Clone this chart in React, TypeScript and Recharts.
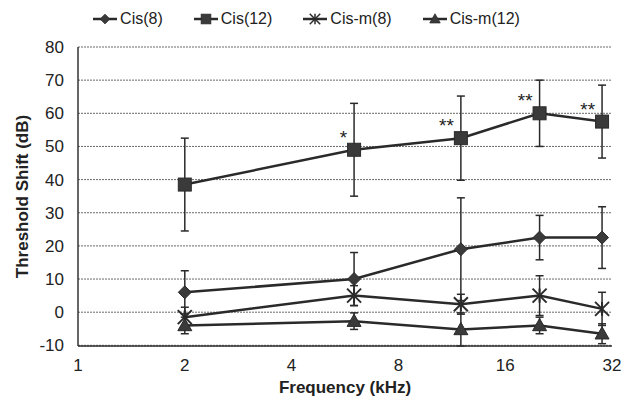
import {
  LineChart,
  Line,
  XAxis,
  YAxis,
  CartesianGrid,
  ErrorBar,
  Legend,
  LabelList,
} from "recharts";

// frequencies in kHz
const freqs = [2, 6, 12, 20, 30];

const cis8 = [6, 10, 19, 22.5, 22.5];
const cis8Err = [6.5, 8, 15.5, 6.7, 9.3];

const cis12 = [38.5, 49, 52.5, 60, 57.5];
const cis12Err = [14, 14, 12.7, 10, 11];

const cism8 = [-1.5, 5, 2.4, 5, 1];
const cism8Err = [3, 3, 3, 6, 5];

const cism12 = [-4, -2.7, -5.2, -4, -6.5];
const cism12Err = [2.5, 2.5, 5, 2.5, 3];

const sigLabels = ["", "*", "**", "**", "**"];

const xTicks = [1, 2, 4, 8, 16, 32];
const yTicks = [-10, 0, 10, 20, 30, 40, 50, 60, 70, 80];

const data = freqs.map((f, i) => ({
  freq: f,
  cis8: cis8[i],
  cis8Err: cis8Err[i],
  cis12: cis12[i],
  cis12Err: cis12Err[i],
  cism8: cism8[i],
  cism8Err: cism8Err[i],
  cism12: cism12[i],
  cism12Err: cism12Err[i],
  sig: sigLabels[i],
}));

const INK = "#2a2a2a";
const FONT = "'Liberation Sans', Arial, sans-serif";

type Shape = "diamond" | "square" | "star" | "triangle";

function Marker({ shape, cx, cy }: { shape: Shape; cx: number; cy: number }) {
  if (shape === "diamond") {
    const r = 6.5;
    return (
      <polygon
        points={`${cx},${cy - r} ${cx + r},${cy} ${cx},${cy + r} ${cx - r},${cy}`}
        fill="#3a3a3a"
        stroke={INK}
      />
    );
  }
  if (shape === "square") {
    const r = 6.5;
    return <rect x={cx - r} y={cy - r} width={r * 2} height={r * 2} fill="#3a3a3a" stroke={INK} />;
  }
  if (shape === "triangle") {
    const r = 7;
    return (
      <polygon
        points={`${cx},${cy - r} ${cx + r},${cy + r * 0.75} ${cx - r},${cy + r * 0.75}`}
        fill="#3a3a3a"
        stroke={INK}
      />
    );
  }
  const r = 7;
  return (
    <g stroke={INK} strokeWidth={2}>
      <line x1={cx - r} y1={cy - r} x2={cx + r} y2={cy + r} />
      <line x1={cx - r} y1={cy + r} x2={cx + r} y2={cy - r} />
      <line x1={cx} y1={cy - r} x2={cx} y2={cy + r} />
    </g>
  );
}

const dotFor = (shape: Shape) => (props: any) => {
  const { cx, cy, index } = props;
  if (cx == null || cy == null) return <g key={index} />;
  return <Marker key={index} shape={shape} cx={cx} cy={cy} />;
};

const legendItems: { name: string; shape: Shape }[] = [
  { name: "Cis(8)", shape: "diamond" },
  { name: "Cis(12)", shape: "square" },
  { name: "Cis-m(8)", shape: "star" },
  { name: "Cis-m(12)", shape: "triangle" },
];

function LegendContent() {
  return (
    <div style={{ display: "flex", justifyContent: "center", gap: 30, fontFamily: FONT, fontSize: 16, color: "#222", height: 22 }}>
      {legendItems.map((it) => (
        <div key={it.name} style={{ display: "flex", alignItems: "center", gap: 2 }}>
          <svg width={26} height={16}>
            <line x1={1} y1={8} x2={25} y2={8} stroke={INK} strokeWidth={2.5} />
            <g transform="translate(13,8) scale(0.75) translate(-13,-8)">
              <Marker shape={it.shape} cx={13} cy={8} />
            </g>
          </svg>
          <span>{it.name}</span>
        </div>
      ))}
    </div>
  );
}

function SigLabel(props: any) {
  const { x, y, value } = props;
  if (!value) return null;
  return (
    <text x={x - 7} y={y - 6} textAnchor="end" fontFamily={FONT} fontSize={19} fill="#222">
      {value}
    </text>
  );
}

export default function App() {
  return (
    <div style={{ position: "absolute", left: 0, top: 0, background: "#fff" }}>
      <LineChart
        width={626}
        height={401}
        data={data}
        margin={{ top: 25, right: 14, left: 0, bottom: 0 }}
      >
        <CartesianGrid
          horizontal
          vertical={false}
          stroke="#6a6a6a"
          strokeDasharray="2 1"
        />
        <XAxis
          dataKey="freq"
          type="number"
          scale="log"
          domain={[1, 32]}
          ticks={xTicks}
          allowDataOverflow
          height={55}
          tickLine={false}
          axisLine={{ stroke: "#333", strokeWidth: 1.5 }}
          tick={{ fill: "#222", fontSize: 17, fontFamily: FONT }}
          tickMargin={7}
          label={{
            value: "Frequency (kHz)",
            position: "insideBottom",
            offset: 8,
            fill: "#222",
            fontSize: 17,
            fontWeight: "bold",
            fontFamily: FONT,
          }}
        />
        <YAxis
          type="number"
          domain={[-10, 80]}
          ticks={yTicks}
          width={78}
          tickLine={false}
          axisLine={{ stroke: "#333", strokeWidth: 1.5 }}
          tick={{ fill: "#222", fontSize: 17, fontFamily: FONT }}
          tickMargin={8}
          label={{
            value: "Threshold Shift (dB)",
            angle: -90,
            position: "insideLeft",
            offset: 22,
            style: { textAnchor: "middle" },
            fill: "#222",
            fontSize: 17,
            fontWeight: "bold",
            fontFamily: FONT,
          }}
        />
        <Legend
          verticalAlign="top"
          align="center"
          wrapperStyle={{ top: 8 }}
          content={<LegendContent />}
        />
        <Line
          dataKey="cis8"
          name="Cis(8)"
          stroke={INK}
          strokeWidth={2.5}
          dot={dotFor("diamond")}
          isAnimationActive={false}
        >
          <ErrorBar dataKey="cis8Err" direction="y" width={4} stroke={INK} strokeWidth={1.5} />
        </Line>
        <Line
          dataKey="cis12"
          name="Cis(12)"
          stroke={INK}
          strokeWidth={2.5}
          dot={dotFor("square")}
          isAnimationActive={false}
        >
          <ErrorBar dataKey="cis12Err" direction="y" width={4} stroke={INK} strokeWidth={1.5} />
          <LabelList dataKey="sig" content={<SigLabel />} />
        </Line>
        <Line
          dataKey="cism8"
          name="Cis-m(8)"
          stroke={INK}
          strokeWidth={2.5}
          dot={dotFor("star")}
          isAnimationActive={false}
        >
          <ErrorBar dataKey="cism8Err" direction="y" width={4} stroke={INK} strokeWidth={1.5} />
        </Line>
        <Line
          dataKey="cism12"
          name="Cis-m(12)"
          stroke={INK}
          strokeWidth={2.5}
          dot={dotFor("triangle")}
          isAnimationActive={false}
        >
          <ErrorBar dataKey="cism12Err" direction="y" width={4} stroke={INK} strokeWidth={1.5} />
        </Line>
      </LineChart>
    </div>
  );
}
